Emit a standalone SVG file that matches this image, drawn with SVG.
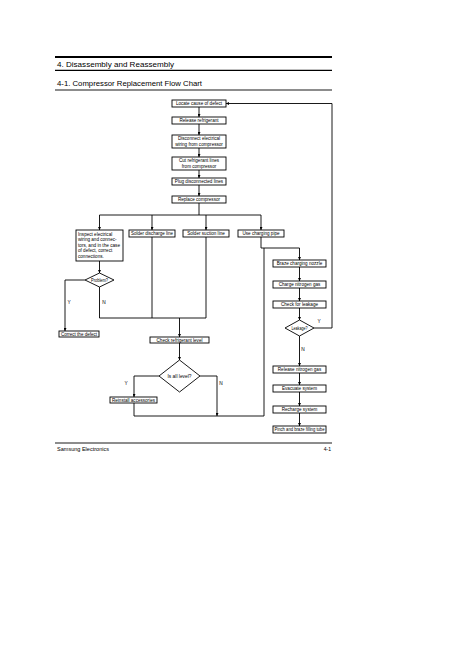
<svg xmlns="http://www.w3.org/2000/svg" width="468" height="662" viewBox="0 0 468 662">
<defs>
<marker id="ah" viewBox="0 0 4 4" refX="4" refY="2" markerWidth="3" markerHeight="3" orient="auto" markerUnits="userSpaceOnUse">
<path d="M0,0 L4,2 L0,4 z" fill="#000"/>
</marker>
</defs>
<style>
.b{fill:#fff;stroke:#000;stroke-width:0.9}
.t{font-family:"Liberation Sans",Arial,sans-serif;font-size:4.6px;fill:#000;text-anchor:middle}
.tl{font-family:"Liberation Sans",Arial,sans-serif;font-size:4.6px;fill:#000}
.c{fill:none;stroke:#000;stroke-width:0.9}
.a{fill:none;stroke:#000;stroke-width:0.9;marker-end:url(#ah)}
.h{font-family:"Liberation Sans",Arial,sans-serif;fill:#000}
.lb{font-family:"Liberation Sans",Arial,sans-serif;font-size:4.8px;fill:#000;text-anchor:middle}
</style>
<rect width="468" height="662" fill="#fff"/>
<g id="header">
<line x1="55" y1="57" x2="332" y2="57" stroke="#000" stroke-width="2"/>
<text class="h" x="57" y="67" font-size="8" textLength="117" lengthAdjust="spacingAndGlyphs">4. Disassembly and Reassembly</text>
<line x1="55" y1="70.3" x2="332" y2="70.3" stroke="#000" stroke-width="1.2"/>
<text class="h" x="57" y="86" font-size="8" textLength="145" lengthAdjust="spacingAndGlyphs">4-1. Compressor Replacement Flow Chart</text>
<line x1="55" y1="90" x2="332" y2="90" stroke="#000" stroke-width="0.9"/>
</g>
<g id="connectors">
<line class="a" x1="199" y1="107" x2="199" y2="117"/>
<line class="a" x1="199" y1="124" x2="199" y2="135"/>
<line class="a" x1="199" y1="148" x2="199" y2="157"/>
<line class="a" x1="199" y1="170" x2="199" y2="178"/>
<line class="a" x1="199" y1="185" x2="199" y2="196"/>
<line class="c" x1="199" y1="203" x2="199" y2="215"/>
<line class="c" x1="99.5" y1="215" x2="261" y2="215"/>
<line class="a" x1="99.5" y1="215" x2="99.5" y2="230"/>
<line class="a" x1="152" y1="215" x2="152" y2="230"/>
<line class="a" x1="206" y1="215" x2="206" y2="230"/>
<line class="a" x1="261" y1="215" x2="261" y2="230"/>
<line class="a" x1="99.5" y1="261" x2="99.5" y2="273"/>
<polyline class="a" points="85,280 65,280 65,331"/>
<line class="c" x1="99.5" y1="287" x2="99.5" y2="318"/>
<line class="c" x1="99.5" y1="318" x2="206" y2="318"/>
<line class="c" x1="152" y1="237" x2="152" y2="318"/>
<line class="c" x1="206" y1="237" x2="206" y2="318"/>
<line class="a" x1="179.5" y1="318" x2="179.5" y2="337"/>
<line class="a" x1="179.5" y1="343" x2="179.5" y2="360"/>
<polyline class="a" points="159,376 134,376 134,397"/>
<polyline class="a" points="200,376 217,376 217,416"/>
<polyline class="c" points="134,403 134,416 264,416"/>
<line class="c" x1="261" y1="237" x2="261" y2="248"/>
<polyline class="c" points="264,416 264,248 261,248"/>
<polyline class="a" points="264,248 299.5,248 299.5,260"/>
<line class="a" x1="299.5" y1="267" x2="299.5" y2="281"/>
<line class="a" x1="299.5" y1="288" x2="299.5" y2="301"/>
<line class="a" x1="299.5" y1="308" x2="299.5" y2="320"/>
<polyline class="a" points="314,328 332,328 332,103.5 226,103.5"/>
<line class="a" x1="299.5" y1="336" x2="299.5" y2="366"/>
<line class="a" x1="299.5" y1="373" x2="299.5" y2="385"/>
<line class="a" x1="299.5" y1="392" x2="299.5" y2="406"/>
<line class="a" x1="299.5" y1="413" x2="299.5" y2="426"/>
<text class="lb" x="69" y="304">Y</text>
<text class="lb" x="104" y="304">N</text>
<text class="lb" x="126" y="385">Y</text>
<text class="lb" x="221" y="385">N</text>
<text class="lb" x="319" y="323">Y</text>
<text class="lb" x="303" y="351">N</text>
</g>
<g id="n1"><rect class="b" x="172" y="100" width="54" height="7"/><text class="t" x="199" y="105.3">Locate cause of defect</text></g>
<g id="n2"><rect class="b" x="172" y="117" width="54" height="7"/><text class="t" x="199" y="122.3">Release refrigerant</text></g>
<g id="n3"><rect class="b" x="172" y="135" width="54" height="13"/><text class="t" x="199" y="140.3">Disconnect electrical</text><text class="t" x="199" y="145.8">wiring from compressor</text></g>
<g id="n4"><rect class="b" x="172" y="157" width="54" height="13"/><text class="t" x="199" y="162.3">Cut refrigerant lines</text><text class="t" x="199" y="167.8">from compressor</text></g>
<g id="n5"><rect class="b" x="172" y="178" width="54" height="7"/><text class="t" x="199" y="183.3">Plug disconnected lines</text></g>
<g id="n6"><rect class="b" x="172" y="196" width="54" height="7"/><text class="t" x="199" y="201.3">Replace compressor</text></g>
<g id="n7"><rect class="b" x="76" y="230" width="47" height="31"/>
<text class="tl" x="78" y="235.5">Inspect electrical</text>
<text class="tl" x="78" y="241">wiring and connec-</text>
<text class="tl" x="78" y="246.5" textLength="42" lengthAdjust="spacingAndGlyphs">tors, and in the case</text>
<text class="tl" x="78" y="252">of defect, correct</text>
<text class="tl" x="78" y="257.5">connections.</text></g>
<g id="n8"><rect class="b" x="129" y="230" width="46" height="7"/><text class="t" x="152" y="235.3" textLength="42" lengthAdjust="spacingAndGlyphs">Solder discharge line</text></g>
<g id="n9"><rect class="b" x="183" y="230" width="46" height="7"/><text class="t" x="206" y="235.3">Solder suction line</text></g>
<g id="n10"><rect class="b" x="238" y="230" width="46" height="7"/><text class="t" x="261" y="235.3">Use charging pipe</text></g>
<g id="n11"><polygon class="b" points="99.5,273 114,280 99.5,287 85,280"/><text class="t" x="99.5" y="281.6" textLength="17" lengthAdjust="spacingAndGlyphs">Problem?</text></g>
<g id="n12"><rect class="b" x="59" y="331" width="40" height="6"/><text class="t" x="79" y="335.8" textLength="36" lengthAdjust="spacingAndGlyphs">Correct the defect</text></g>
<g id="n13"><rect class="b" x="150" y="337" width="59" height="6"/><text class="t" x="179.5" y="341.8">Check refrigerant level</text></g>
<g id="n14"><polygon class="b" points="179.5,360 200,376 179.5,392 159,376"/><text class="t" x="179.5" y="377.6" textLength="24" lengthAdjust="spacingAndGlyphs">Is all level?</text></g>
<g id="n15"><rect class="b" x="110" y="397" width="47" height="6"/><text class="t" x="133.5" y="401.8" textLength="43" lengthAdjust="spacingAndGlyphs">Reinstall accessories</text></g>
<g id="n16"><rect class="b" x="273" y="260" width="53" height="7"/><text class="t" x="299.5" y="265.3">Braze charging nozzle</text></g>
<g id="n17"><rect class="b" x="273" y="281" width="53" height="7"/><text class="t" x="299.5" y="286.3">Charge nitrogen gas</text></g>
<g id="n18"><rect class="b" x="273" y="301" width="53" height="7"/><text class="t" x="299.5" y="306.3">Check for leakage</text></g>
<g id="n19"><polygon class="b" points="299.5,320 314,328 299.5,336 285,328"/><text class="t" x="299.5" y="329.6" textLength="16" lengthAdjust="spacingAndGlyphs">Leakage?</text></g>
<g id="n20"><rect class="b" x="273" y="366" width="53" height="7"/><text class="t" x="299.5" y="371.3">Release nitrogen gas</text></g>
<g id="n21"><rect class="b" x="273" y="385" width="53" height="7"/><text class="t" x="299.5" y="390.3">Evacuate system</text></g>
<g id="n22"><rect class="b" x="273" y="406" width="53" height="7"/><text class="t" x="299.5" y="411.3">Recharge system</text></g>
<g id="n23"><rect class="b" x="273" y="426" width="53" height="7"/><text class="t" x="299.5" y="431.3" textLength="50" lengthAdjust="spacingAndGlyphs">Pinch and braze filling tube</text></g>
<g id="footer">
<line x1="55" y1="443" x2="332" y2="443" stroke="#000" stroke-width="0.9"/>
<text class="h" x="57" y="451" font-size="5" textLength="52" lengthAdjust="spacingAndGlyphs">Samsung Electronics</text>
<text class="h" x="331" y="451" font-size="5" text-anchor="end">4-1</text>
</g>
</svg>
